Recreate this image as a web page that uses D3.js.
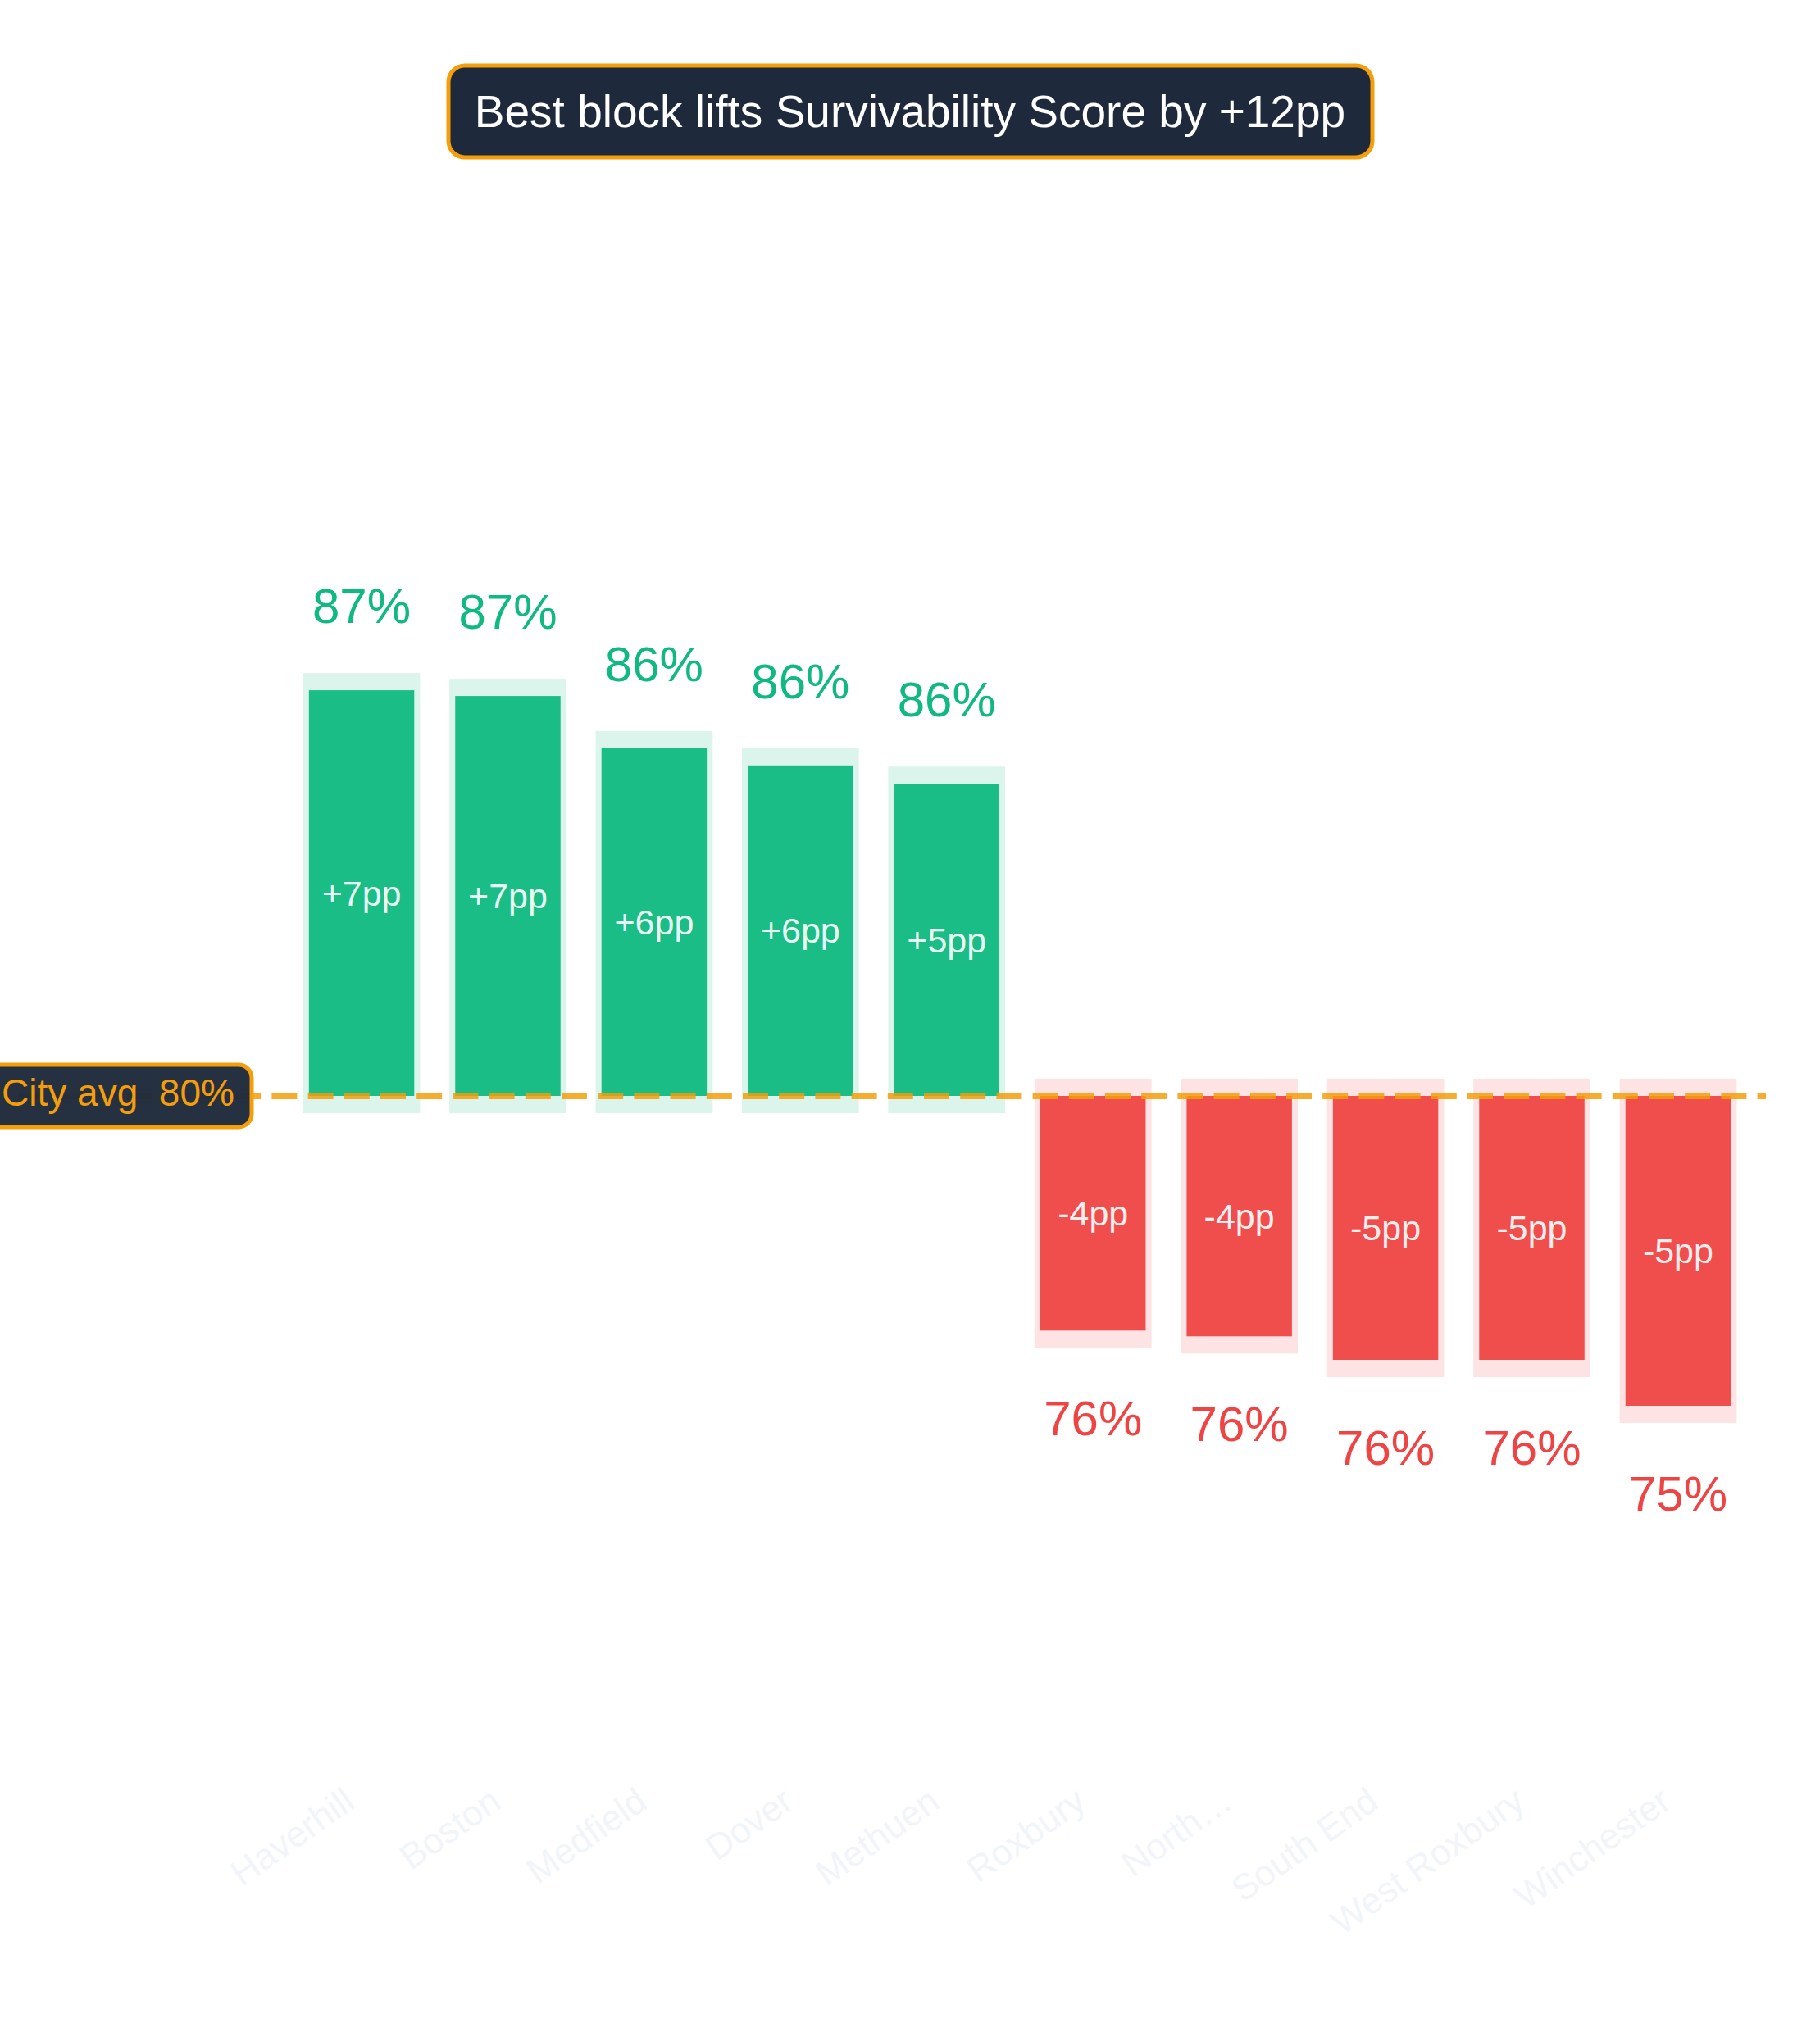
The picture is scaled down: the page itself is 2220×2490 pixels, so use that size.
<!DOCTYPE html>
<html>
<head>
<meta charset="utf-8">
<script src="https://cdn.jsdelivr.net/npm/d3@7"></script>
<style>
  html, body { margin: 0; padding: 0; background: #ffffff; }
  svg { display: block; }
  text { font-family: "Liberation Sans", Arial, Helvetica, sans-serif; }
</style>
</head>
<body>
<svg id="chart" width="2220" height="2490"></svg>
<script>
// ---- data ----
const categories = ["Haverhill", "Boston", "Medfield", "Dover", "Methuen", "Roxbury", "North\u2026", "South End", "West Roxbury", "Winchester"];
const values = [87.37, 87.27, 86.36, 86.06, 85.74, 76.21, 76.11, 75.70, 75.70, 74.90];
const cityAvg = 80.3;
const cityAvgLabel = "City avg  80%";
const titleText = "Best block lifts Survivability Score by +12pp";

// ---- layout ----
const W = 2220, H = 2490;
const svg = d3.select("#chart");
svg.append("rect").attr("width", W).attr("height", H).attr("fill", "#ffffff");

const data = categories.map((c, i) => ({ name: c, value: values[i], delta: values[i] - cityAvg }));

const x = d3.scaleBand().domain(categories).range([334, 2154]).padding(0.2);
const y = d3.scaleLinear().domain([70, 90]).range([2058, 658]);

const GREEN = "#10b981", RED = "#ef4444", AMBER = "#f59e0b", NAVY = "#1e293b";
const colorOf = d => d.delta >= 0 ? GREEN : RED;
const y0 = y(cityAvg);

// background halo rects
svg.append("g").selectAll("rect").data(data).join("rect")
  .attr("x", d => x(d.name))
  .attr("width", x.bandwidth())
  .attr("y", d => Math.min(y(d.value), y0) - 21)
  .attr("height", d => Math.abs(y(d.value) - y0) + 42)
  .attr("fill", colorOf)
  .attr("fill-opacity", 0.15);

// bars
const bw = x.bandwidth() * 0.9;
svg.append("g").selectAll("rect").data(data).join("rect")
  .attr("x", d => x(d.name) + (x.bandwidth() - bw) / 2)
  .attr("width", bw)
  .attr("y", d => Math.min(y(d.value), y0))
  .attr("height", d => Math.abs(y(d.value) - y0))
  .attr("fill", colorOf)
  .attr("fill-opacity", 0.95);

// city average dashed line
svg.append("line")
  .attr("x1", 22).attr("x2", x.range()[1])
  .attr("y1", y0).attr("y2", y0)
  .attr("stroke", AMBER)
  .attr("stroke-opacity", 0.85)
  .attr("stroke-width", 8)
  .attr("stroke-dasharray", "31,13.2");

// delta labels inside bars
svg.append("g").selectAll("text").data(data).join("text")
  .attr("x", d => x(d.name) + x.bandwidth() / 2)
  .attr("y", d => (y(d.value) + y0) / 2)
  .attr("dy", "0.35em")
  .attr("text-anchor", "middle")
  .attr("font-size", 43)
  .attr("fill", "#ffffff")
  .attr("fill-opacity", 0.92)
  .text(d => (d.delta >= 0 ? "+" : "") + Math.round(d.delta) + "pp");

// value labels
svg.append("g").selectAll("text").data(data).join("text")
  .attr("x", d => x(d.name) + x.bandwidth() / 2)
  .attr("y", d => d.delta >= 0 ? y(d.value) - 82 : y(d.value) + 128)
  .attr("text-anchor", "middle")
  .attr("font-size", 60)
  .attr("fill", colorOf)
  .text(d => Math.round(d.value) + "%");

// city avg label box
const avgG = svg.append("g");
avgG.append("rect")
  .attr("x", -19).attr("y", y0 - 38)
  .attr("width", 326).attr("height", 76)
  .attr("rx", 16)
  .attr("fill", NAVY).attr("fill-opacity", 0.97)
  .attr("stroke", AMBER).attr("stroke-width", 5);
avgG.append("text")
  .attr("x", 144).attr("y", y0 + 12)
  .attr("text-anchor", "middle")
  .attr("font-size", 46)
  .attr("fill", AMBER)
  .style("white-space", "pre")
  .text(cityAvgLabel);

// title box
const tG = svg.append("g");
tG.append("rect")
  .attr("x", 547).attr("y", 80)
  .attr("width", 1127).attr("height", 112)
  .attr("rx", 20)
  .attr("fill", NAVY)
  .attr("stroke", AMBER).attr("stroke-width", 5);
tG.append("text")
  .attr("x", W / 2).attr("y", 155)
  .attr("text-anchor", "middle")
  .attr("font-size", 55)
  .attr("fill", "#ffffff")
  .text(titleText);

// category axis labels (faint, rotated)
svg.append("g").selectAll("text").data(categories).join("text")
  .attr("transform", c => `translate(${x(c) + x.bandwidth() / 2 - 6},2204) rotate(-35)`)
  .attr("text-anchor", "end")
  .attr("font-size", 44)
  .attr("fill", "#f1f5f9")
  .text(c => c);
</script>
</body>
</html>
